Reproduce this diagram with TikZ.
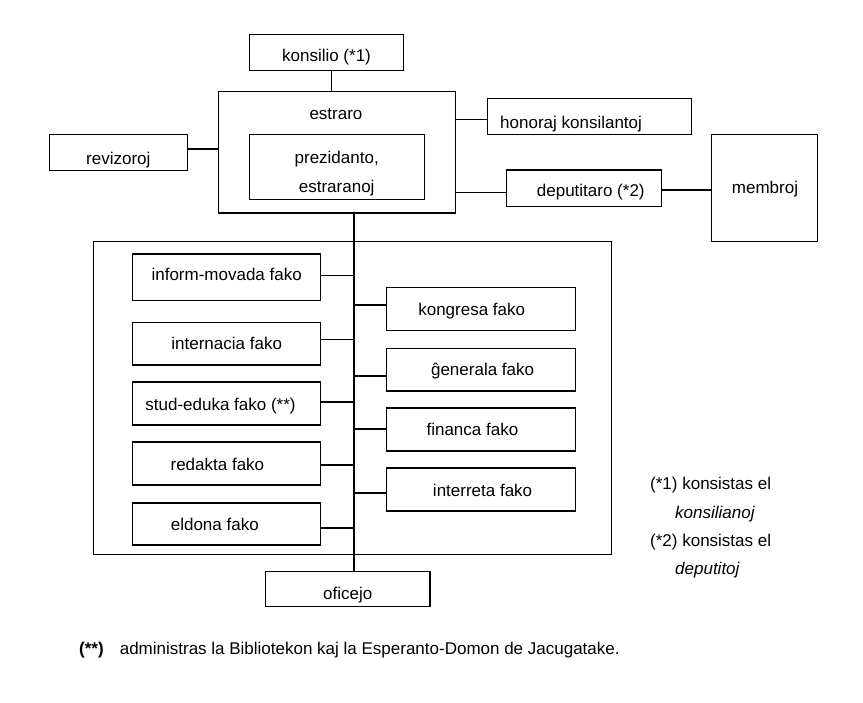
\documentclass[tikz,border=0pt]{standalone}
\usepackage{fontspec}
\setmainfont{Liberation Sans}
\begin{document}
\begin{tikzpicture}[x=1pt,y=-1pt,
  box/.style={draw, line width=1.1pt, inner sep=0pt},
  conn/.style={line width=1.1pt},
  txt/.style={inner sep=0pt, anchor=base, font=\fontsize{17}{20}\selectfont},
  ltxt/.style={txt, anchor=base west}]
\fill[white] (0,0) rectangle (863,703);
\useasboundingbox (0,0) rectangle (863,703);

% boxes
\node[box, minimum width=154pt, minimum height=36pt] (kons) at (326.3,52.2) {};
\node[box, minimum width=237.4pt, minimum height=121.7pt] (estr) at (337,152.2) {};
\node[box, minimum width=175pt, minimum height=65pt] (prez) at (336.8,166.8) {};
\node[box, minimum width=138.4pt, minimum height=36pt] (rev) at (118.5,152.3) {};
\node[box, minimum width=203.7pt, minimum height=36pt] (hon) at (589.2,116.3) {};
\node[box, minimum width=154.3pt, minimum height=36.7pt] (dep) at (583.9,188.4) {};
\node[box, minimum width=106pt, minimum height=107.4pt] (mem) at (764.7,188) {};
\node[box, minimum width=518.7pt, minimum height=312.3pt] (big) at (352.4,397.9) {};
\node[box, minimum width=188.3pt, minimum height=46.3pt] (inf) at (226.2,277.2) {};
\node[box, minimum width=188.3pt, minimum height=42.7pt] (int) at (226.2,343.7) {};
\node[box, minimum width=188.3pt, minimum height=43pt] (stu) at (226.2,403.5) {};
\node[box, minimum width=188.3pt, minimum height=43pt] (red) at (226.2,463.5) {};
\node[box, minimum width=188.3pt, minimum height=42pt] (eld) at (226.2,524) {};
\node[box, minimum width=188.7pt, minimum height=43pt] (kon) at (480.7,308.8) {};
\node[box, minimum width=188.7pt, minimum height=42.7pt] (gen) at (480.7,369.7) {};
\node[box, minimum width=188.7pt, minimum height=43pt] (fin) at (480.7,429.5) {};
\node[box, minimum width=188.7pt, minimum height=43pt] (ire) at (480.7,489.5) {};
\node[box, minimum width=164.2pt, minimum height=34.3pt] (ofi) at (347.9,588.9) {};

% texts
\node[txt] (tkons) at (326.5,61.4) {konsilio (*1)};
\node[txt] (testr) at (336,119.7) {estraro};
\node[txt] (tprez1) at (336.7,163.1) {prezidanto,};
\node[txt] (tprez2) at (336.7,192.1) {estraranoj};
\node[txt] (trev) at (118.3,164.1) {revizoroj};
\node[ltxt] (thon) at (500,128.1) {honoraj konsilantoj};
\node[txt] (tdep) at (590.8,196.4) {deputitaro (*2)};
\node[txt] (tmem) at (765,193.1) {membroj};
\node[txt] (tinf) at (226.7,280.7) {inform-movada fako};
\node[txt] (tint) at (226.7,349.7) {internacia fako};
\node[txt] (tstu) at (220.5,410.7) {stud-eduka fako (**)};
\node[txt] (tred) at (217.4,470.7) {redakta fako};
\node[txt] (teld) at (214.8,530.7) {eldona fako};
\node[txt] (tkon) at (471.7,315.4) {kongresa fako};
\node[txt] (tgen) at (482.6,375.7) {ĝenerala fako};
\node[txt] (tfin) at (472.4,435.7) {financa fako};
\node[txt] (tire) at (482.6,496.7) {interreta fako};
\node[txt] (tofi) at (347.7,599.1) {oficejo};
\node[ltxt] (n1a) at (650,489.4) {(*1) konsistas el};
\node[ltxt] (n1b) at (675,518.4) {\itshape konsilianoj};
\node[ltxt] (n2a) at (650,546.4) {(*2) konsistas el};
\node[ltxt] (n2b) at (675,574.4) {\itshape deputitoj};
\node[ltxt] (fn1) at (79,654.4) {\bfseries (**)};
\node[ltxt] (fn2) at (119.6,654.4) {administras la Bibliotekon kaj la Esperanto-Domon de Jacugatake.};

% connectors
\coordinate (k1) at ([xshift=5.4pt]kons.south);
\draw[conn] (k1) -- (k1 |- estr.north);
\coordinate (r1) at ([yshift=3.3pt]rev.east);
\draw[conn] (r1) -- (r1 -| estr.west);
\coordinate (h1) at ([yshift=-3pt]hon.west);
\draw[conn] (h1) -- (h1 -| estr.east);
\coordinate (d1) at ([yshift=-3.9pt]dep.west);
\draw[conn] (d1) -- (d1 -| estr.east);
\coordinate (d2) at ([yshift=-1.6pt]dep.east);
\draw[conn] (d2) -- (d2 -| mem.west);
\coordinate (spt) at ([xshift=17pt]estr.south);
\coordinate (spb) at (spt |- ofi.north);
\draw[conn] (spt) -- (spb);
\coordinate (c1) at ([yshift=1.9pt]inf.east);
\draw[conn] (c1) -- (c1 -| spt);
\coordinate (c2) at ([yshift=4.4pt]int.east);
\draw[conn] (c2) -- (c2 -| spt);
\coordinate (c3) at ([yshift=1.5pt]stu.east);
\draw[conn] (c3) -- (c3 -| spt);
\coordinate (c4) at ([yshift=-1.5pt]red.east);
\draw[conn] (c4) -- (c4 -| spt);
\coordinate (c5) at ([yshift=-4pt]eld.east);
\draw[conn] (c5) -- (c5 -| spt);
\coordinate (c6) at ([yshift=3.8pt]kon.west);
\draw[conn] (c6) -- (c6 -| spt);
\coordinate (c7) at ([yshift=-6.3pt]gen.west);
\draw[conn] (c7) -- (c7 -| spt);
\coordinate (c8) at ([yshift=0.5pt]fin.west);
\draw[conn] (c8) -- (c8 -| spt);
\coordinate (c9) at ([yshift=-3.5pt]ire.west);
\draw[conn] (c9) -- (c9 -| spt);
\end{tikzpicture}
\end{document}
